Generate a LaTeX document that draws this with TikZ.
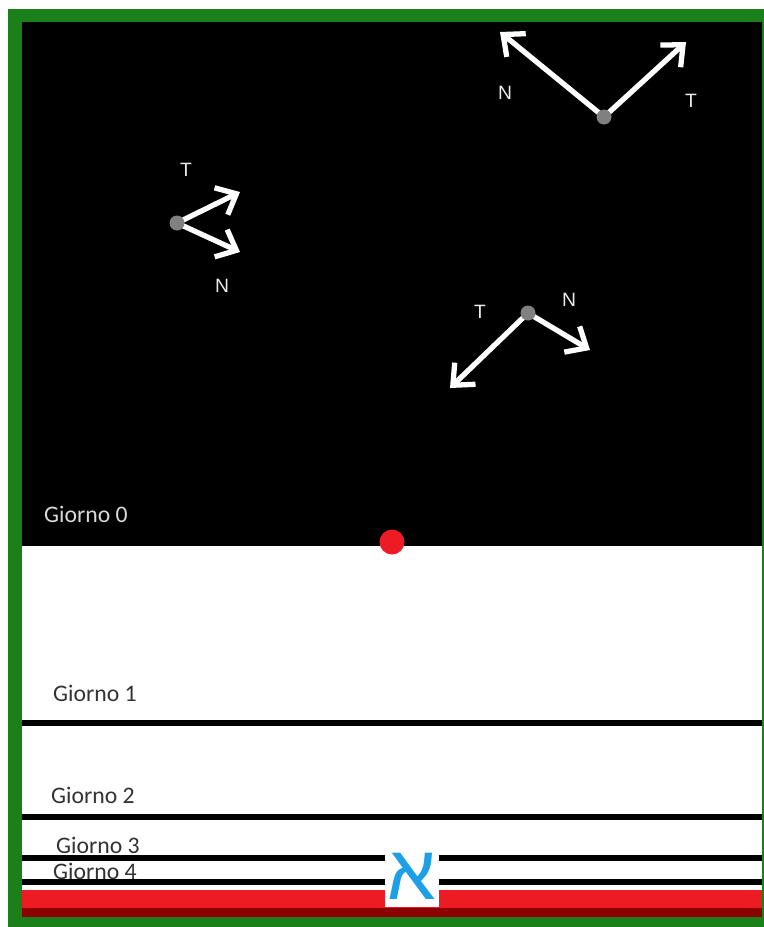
\documentclass[tikz,border=0pt]{standalone}
\usepackage{fontspec}
\setmainfont{Carlito}
\newfontfamily\arialfont{Liberation Sans}
\newfontfamily\hebfont[Script=Hebrew]{Liberation Sans}
\TeXXeTstate=1
\usepackage{tikz}
\usetikzlibrary{arrows.meta,positioning}
\definecolor{framegreen}{RGB}{26,128,26}
\definecolor{bandred}{RGB}{237,28,36}
\definecolor{darkband}{RGB}{140,0,0}
\definecolor{alephblue}{RGB}{30,160,230}

\begin{document}
\begin{tikzpicture}[x=0.02cm, y=-0.02cm,
  vec/.style={white, line width=3pt, -{Straight Barb[length=3.4mm, width=6mm, line width=3pt]}},
  pt/.style={circle, fill=gray, inner sep=0pt, minimum size=3mm},
  vlabel/.style={white!92!black, font=\arialfont\fontsize{11}{11}\selectfont},
  day/.style={anchor=west, font=\fontsize{13.5}{13.5}\selectfont, text=black!80},
  dayline/.style={black, line width=3.6pt}
]
\useasboundingbox (0,0) rectangle (764,927);
% frame, sky and the bands at the bottom
\fill[framegreen] (8,9) rectangle (764,927);
\fill[white] (22,22) rectangle (762,917);
\fill[black] (22,22) rectangle (762,546);
\fill[bandred] (22,890) rectangle (762,908);
\fill[darkband] (22,908) rectangle (762,917);

% day lines
\coordinate (l1a) at (22,723); \coordinate (l1b) at (762,723);
\coordinate (l2a) at (22,817); \coordinate (l2b) at (762,817);
\coordinate (l3a) at (22,858); \coordinate (l3b) at (762,858);
\coordinate (l4a) at (22,882); \coordinate (l4b) at (762,882);
\draw[dayline] (l1a) -- (l1b);
\draw[dayline] (l2a) -- (l2b);
\draw[dayline] (l3a) -- (l3b);
\draw[dayline] (l4a) -- (l4b);

\node[day, text=white!85!black] (g0) at (38,514) {Giorno 0};
\node[day] (g1) at (47,693) {Giorno 1};
\node[day] (g2) at (45,795) {Giorno 2};
\node[day] (g3) at (50,845) {Giorno 3};
\node[day] (g4) at (47,871) {Giorno 4};

% aleph on a white patch
\node[fill=white, inner sep=0pt, minimum width=1.1cm, minimum height=1.24cm,
  font=\hebfont\fontsize{44}{44}\selectfont, text=alephblue] (aleph) at (412,876) {\beginR א\endR};

% the three pairs of vectors
\coordinate (p1) at (604,117);
\coordinate (p1n) at (500,32);
\coordinate (p1t) at (686,42);
\draw[vec] (p1) -- (p1n);
\draw[vec] (p1) -- (p1t);
\node[pt] (d1) at (p1) {};
\node[vlabel] (n1) at (505,93) {N};
\node[vlabel] (t1) at (691,101) {T};

\coordinate (p2) at (177,223);
\coordinate (p2t) at (240,192);
\coordinate (p2n) at (240,252);
\draw[vec] (p2) -- (p2t);
\draw[vec] (p2) -- (p2n);
\node[pt] (d2) at (p2) {};
\node[vlabel] (t2) at (186,170) {T};
\node[vlabel] (n2) at (222,286) {N};

\coordinate (p3) at (528,313);
\coordinate (p3t) at (450,388);
\coordinate (p3n) at (590,350);
\draw[vec] (p3) -- (p3t);
\draw[vec] (p3) -- (p3n);
\node[pt] (d3) at (p3) {};
\node[vlabel] (t3) at (480,312) {T};
\node[vlabel] (n3) at (569,300) {N};

% red sun on the horizon
\node[circle, fill=bandred, minimum size=0.5cm, inner sep=0pt] (sun) at (392,542) {};
\end{tikzpicture}
\end{document}
